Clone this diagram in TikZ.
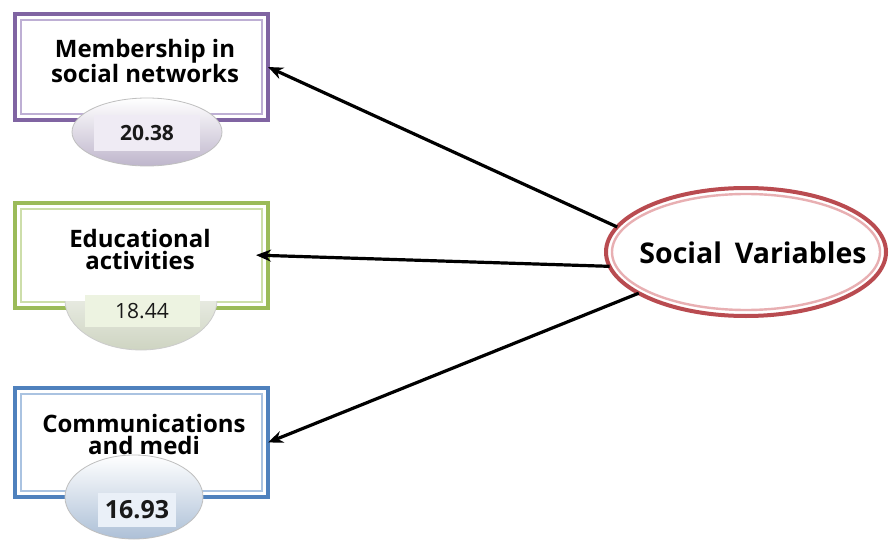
\documentclass[tikz,border=0pt]{standalone}
\usepackage{fontspec}
\setmainfont{Open Sans}
\usetikzlibrary{shapes.geometric,arrows.meta}
\definecolor{purpleline}{RGB}{128,100,162}
\definecolor{purplelight}{RGB}{190,175,212}
\definecolor{greenline}{RGB}{155,187,89}
\definecolor{greenlight}{RGB}{205,222,170}
\definecolor{blueline}{RGB}{79,129,189}
\definecolor{bluelight}{RGB}{170,195,225}
\definecolor{redline}{RGB}{185,75,80}
\definecolor{redlight}{RGB}{232,175,178}
\tikzset{
  framebox/.style={rectangle, draw=#1, line width=4pt, fill=white,
    minimum width=253pt, inner sep=0pt, outer sep=0pt},
  boxlabel/.style={font=\bfseries\fontsize{24}{22}\selectfont, align=center,
    text=black, inner sep=0pt},
  numoval/.style={ellipse, inner sep=0pt, outer sep=0pt, draw=#1, line width=0.8pt},
  numpatch/.style={rectangle, inner sep=0pt, minimum height=36pt,
    font=\fontsize{21}{21}\selectfont, text=black!90},
  link/.style={line width=3.2pt, -{Stealth[length=15pt,width=12pt]}}
}
\begin{document}
\begin{tikzpicture}[x=1pt,y=-1pt]
\useasboundingbox[fill=white] (0,0) rectangle (891,540);

% ---- Membership in social networks ----
\node[framebox=purpleline, minimum height=106pt] (b1) at (141.5,67) {};
\draw[purplelight, line width=1.6pt]
  ([shift={(6pt,6pt)}]b1.south west) rectangle ([shift={(-6pt,-6pt)}]b1.north east);
\node[boxlabel] (t1) at (145,61) {Membership in\\social networks};
\node[numoval=black!25, minimum width=150pt, minimum height=68pt,
  top color=white, bottom color=purplelight!75!gray!80] (e1) at (147,132) {};
\node[numpatch, fill=purplelight!25, minimum width=106pt,
  font=\bfseries\fontsize{21}{21}\selectfont] (n1) at (147,133) {20.38};

% ---- Educational activities ----
\node[framebox=greenline, minimum height=105pt] (b2) at (141.5,255.5) {};
\draw[greenlight, line width=1.6pt]
  ([shift={(6pt,6pt)}]b2.south west) rectangle ([shift={(-6pt,-6pt)}]b2.north east);
\node[boxlabel] (t2) at (140,249) {Educational\\activities};
\begin{scope}
  \clip (40,301) rectangle (240,360);
  \node[numoval=black!20, minimum width=152pt, minimum height=100pt,
    top color=white, bottom color=greenlight!60!gray!60] (e2) at (141,300) {};
\end{scope}
\node[numpatch, fill=greenlight!35, minimum width=115pt, minimum height=32pt] (n2) at (142,311) {18.44};

% ---- Communications and medi ----
\node[framebox=blueline, minimum height=109pt] (b3) at (141.5,442.5) {};
\draw[bluelight, line width=1.6pt]
  ([shift={(6pt,6pt)}]b3.south west) rectangle ([shift={(-6pt,-6pt)}]b3.north east);
\node[boxlabel] (t3) at (144,434) {Communications\\and medi};
\node[numoval=black!25, minimum width=138pt, minimum height=84pt,
  top color=white, bottom color=bluelight!85!gray!90] (e3) at (134,497) {};
\node[numpatch, fill=bluelight!25, minimum width=78pt, minimum height=34pt,
  font=\bfseries\fontsize{25}{25}\selectfont] (n3) at (137,510) {16.93};

% ---- Social Variables ----
\node[ellipse, draw=redline, line width=4pt, fill=white, inner sep=0pt, outer sep=0pt,
  minimum width=280pt, minimum height=128pt] (sv) at (746,252) {};
\draw[redlight, line width=2.4pt] (sv.center) ellipse [x radius=134, y radius=58];
\node[font=\bfseries\fontsize{28.5}{28.5}\selectfont, text=black, inner sep=0pt] (svt) at (753,253)
  {Social\hspace{0.45em}Variables};

% ---- connectors ----
\draw[link] (sv.169) -- (b1.east);
\draw[link, shorten >=-12pt] (sv.186) -- (b2.east);
\draw[link] (sv.201) -- (b3.east);
\end{tikzpicture}
\end{document}
